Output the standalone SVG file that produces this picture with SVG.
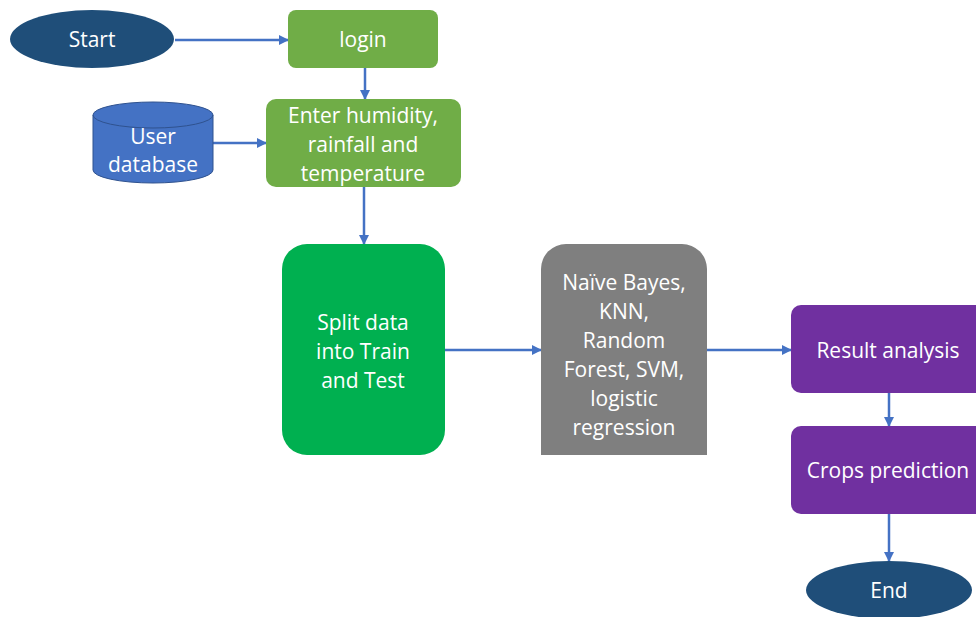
<svg xmlns="http://www.w3.org/2000/svg" width="976" height="617" viewBox="0 0 976 617">
<defs>
<marker id="ah" viewBox="0 0 10 10" refX="9" refY="5" markerWidth="10" markerHeight="10" markerUnits="userSpaceOnUse" orient="auto">
<path d="M0,0 L10,5 L0,10 z" fill="#4472C4"/>
</marker>
</defs>
<style>
text{font-family:"Open Sans","Liberation Sans",sans-serif;font-size:21px;fill:#fff;text-anchor:middle;dominant-baseline:central}
.c{stroke:#4472C4;stroke-width:2.5;fill:none;marker-end:url(#ah)}
</style>
<rect width="976" height="617" fill="#fff"/>
<g id="connectors">
<line class="c" x1="175" y1="40" x2="288" y2="40"/>
<line class="c" x1="365" y1="68" x2="365" y2="99"/>
<line class="c" x1="213" y1="143" x2="266" y2="143"/>
<line class="c" x1="364" y1="187" x2="364" y2="244"/>
<line class="c" x1="445" y1="350" x2="541" y2="350"/>
<line class="c" x1="707" y1="350" x2="791" y2="350"/>
<line class="c" x1="889" y1="393" x2="889" y2="426"/>
<line class="c" x1="889" y1="514" x2="889" y2="561"/>
</g>
<g id="start">
<ellipse cx="92" cy="39" rx="82" ry="29" fill="#1F4E79"/>
<text x="92" y="39">Start</text>
</g>
<g id="login">
<rect x="288" y="10" width="150" height="58" rx="8" fill="#70AD47"/>
<text x="363" y="39">login</text>
</g>
<g id="userdb">
<path d="M93,115 L93,170 A60,13 0 0 0 213,170 L213,115 A60,13 0 0 0 93,115 Z" fill="#4472C4" stroke="#2F528F" stroke-width="1"/>
<path d="M93,115 A60,13 0 0 0 213,115" fill="none" stroke="#2F528F" stroke-width="1"/>
<text x="153" y="136">User</text>
<text x="153" y="164">database</text>
</g>
<g id="enter">
<rect x="266" y="99" width="195" height="88" rx="10" fill="#70AD47"/>
<text x="363" y="115">Enter humidity,</text>
<text x="363" y="144">rainfall and</text>
<text x="363" y="173">temperature</text>
</g>
<g id="split">
<rect x="282" y="244" width="163" height="211" rx="25" fill="#00B050"/>
<text x="363" y="322">Split data</text>
<text x="363" y="351">into Train</text>
<text x="363" y="380">and Test</text>
</g>
<g id="models">
<path d="M541,455 L541,269 A25,25 0 0 1 566,244 L682,244 A25,25 0 0 1 707,269 L707,455 Z" fill="#7F7F7F"/>
<text x="624" y="282">Naïve Bayes,</text>
<text x="624" y="311">KNN,</text>
<text x="624" y="340">Random</text>
<text x="624" y="369">Forest, SVM,</text>
<text x="624" y="398">logistic</text>
<text x="624" y="427">regression</text>
</g>
<g id="result">
<rect x="791" y="305" width="200" height="88" rx="10" fill="#7030A0"/>
<text x="888" y="350">Result analysis</text>
</g>
<g id="crops">
<rect x="791" y="426" width="200" height="88" rx="10" fill="#7030A0"/>
<text x="888" y="470">Crops prediction</text>
</g>
<g id="end">
<ellipse cx="889" cy="590" rx="83" ry="29" fill="#1F4E79"/>
<text x="889" y="590">End</text>
</g>
</svg>
